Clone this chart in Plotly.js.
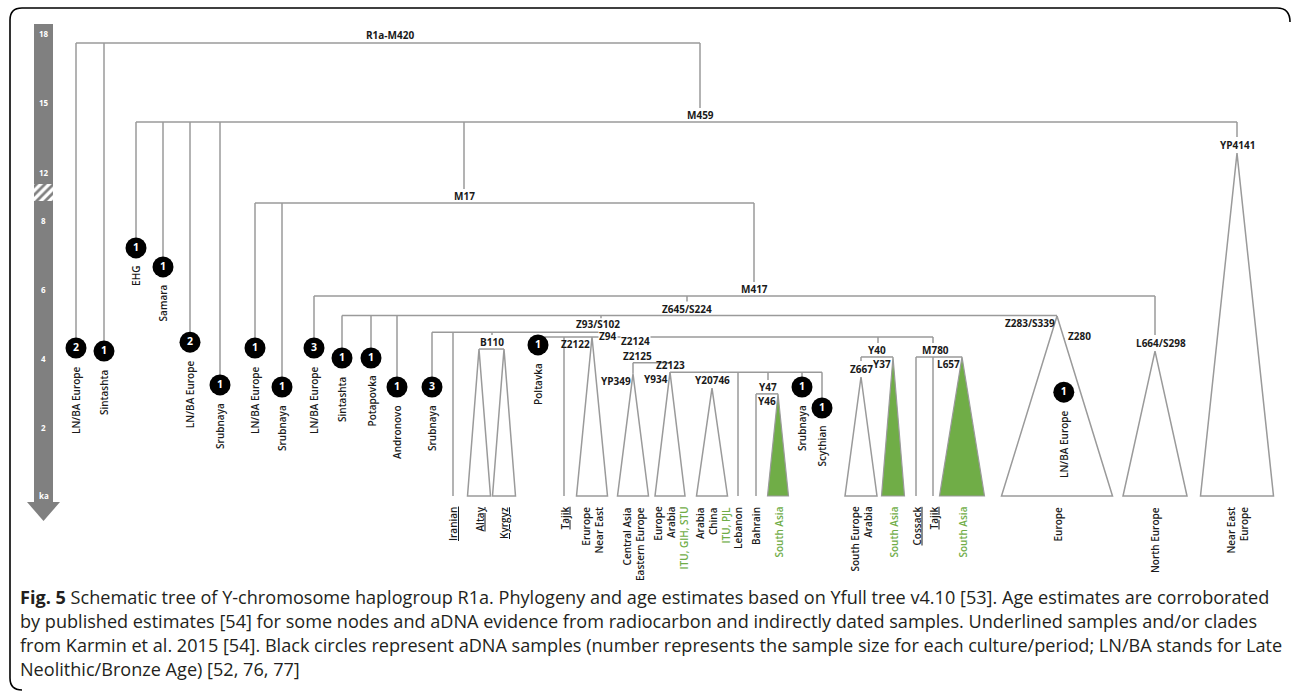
<!DOCTYPE html>
<html><head><meta charset="utf-8">
<script src="https://cdn.plot.ly/plotly-3.0.1.min.js"></script>
<style>html,body{margin:0;padding:0;background:#fff}#chart{width:1292px;height:695px}</style>
</head><body><div id="chart"></div>
<script>
// ================= DATA =================
// time scale ticks (ka)
const tickAges = [18, 15, 12, 8, 6, 4, 2];
const tickLabels = ['18', '15', '12', '8', '6', '4', '2'];

// internal nodes (age in ka)
const nodeNames   = ['R1a-M420', 'M459', 'M17', 'M417', 'Z645/S224', 'Z93/S102', 'Z94', 'B110', 'Z2124', 'Z2125', 'Z2123', 'Y47', 'Y40', 'M780'];
const nodeAges    = [17.58, 14.16, 8.49, 5.80, 5.23, 4.75, 4.61, 4.26, 4.41, 3.86, 3.59, 2.96, 4.03, 4.03];
const nodeParents = [null, 'R1a-M420', 'M459', 'M17', 'M417', 'Z645/S224', 'Z93/S102', 'Z93/S102', 'Z94', 'Z2124', 'Z2125', 'Z2123', 'Z94', 'Z94'];

// aDNA samples (black circles)
const sampleNames   = ['LN/BA Europe', 'Sintashta', 'EHG', 'Samara', 'LN/BA Europe', 'Srubnaya', 'LN/BA Europe', 'Srubnaya', 'LN/BA Europe', 'Sintashta', 'Potapovka', 'Andronovo', 'Srubnaya', 'Poltavka', 'Srubnaya', 'Scythian', 'LN/BA Europe'];
const sampleCounts  = [2, 1, 1, 1, 2, 1, 1, 1, 3, 1, 1, 1, 3, 1, 1, 1, 1];
const sampleAges    = [4.29, 4.20, 7.19, 6.64, 4.46, 3.22, 4.29, 3.16, 4.29, 4.00, 4.00, 3.16, 3.16, 4.38, 3.16, 2.55, 3.01];
const sampleParents = ['R1a-M420', 'R1a-M420', 'M459', 'M459', 'M459', 'M459', 'M17', 'M17', 'M417', 'Z645/S224', 'Z645/S224', 'Z645/S224', 'Z93/S102', 'Z94', 'Z2123', 'Z2123', 'Z280'];

// clades (triangles), apex age in ka, base at present
const cladeNames    = ['Altay', 'Kyrgyz', 'Z2122', 'YP349', 'Y934', 'Y20746', 'Y46', 'Z667', 'Y37', 'L657', 'Z283/S339', 'L664/S298', 'YP4141'];
const cladeParents  = ['B110', 'B110', 'Z94', 'Z2125', 'Z2123', 'Z2123', 'Y47', 'Y40', 'Y40', 'M780', 'Z645/S224', 'M417', 'M459'];
const cladeAges     = [4.26, 4.26, 4.61, 3.54, 3.59, 3.13, 2.96, 3.45, 4.03, 4.03, 5.22, 4.20, 12.82];
const cladeSouthAsian = [false, false, false, false, false, false, true, false, true, true, false, false, false];
const cladeRegions  = ['<u>Altay</u>', '<u>Kyrgyz</u>', 'Erurope<br>Near East', 'Central Asia<br>Eastern Europe',
  'Europe<br>Arabia<br><span style="color:#70ad47">ITU, GIH, STU</span>', 'Arabia<br>China<br><span style="color:#70ad47">ITU, PJL</span>',
  '<span style="color:#70ad47">South Asia</span>', 'South Europe<br>Arabia', '<span style="color:#70ad47">South Asia</span>',
  '<span style="color:#70ad47">South Asia</span>', 'Europe', 'North Europe', 'Near East<br>Europe'];

// single tips (lines to present)
const tipNames   = ['<u>Iranian</u>', '<u>Tajik</u>', 'Lebanon', 'Bahrain', '<u>Cossack</u>', '<u>Tajik</u>'];
const tipParents = ['Z93/S102', 'Z94', 'Z2123', 'Y47', 'M780', 'M780'];

// subclade inside Z283/S339
const subNode = {name: 'Z280', age: 4.58};

const captionLines = [
  '<b>Fig. 5</b> Schematic tree of Y-chromosome haplogroup R1a. Phylogeny and age estimates based on Yfull tree v4.10 [53]. Age estimates are corroborated',
  'by published estimates [54] for some nodes and aDNA evidence from radiocarbon and indirectly dated samples. Underlined samples and/or clades',
  'from Karmin et al. 2015 [54]. Black circles represent aDNA samples (number represents the sample size for each culture/period; LN/BA stands for Late',
  'Neolithic/Bronze Age) [52, 76, 77]'
];

// ================= LAYOUT (schematic positions / styles) =================
const nodeCols     = [700, 700, 464, 754, 687, 601, 606, 492, 639, 639, 670, 768, 878, 933];
// label placement: 'above' = centred above node line (stub interrupted); 'free' = explicit offset, no stub
const nodeLabelPos = ['none', 'above', 'above', 'above', 'above', 'above', 'free', 'above', 'free', 'above', 'above', 'above', 'above', 'above'];
const nodeLabelDx  = [0, 0, 0, 0, 0, -3, 12, 0, -19, -2, 0, 0, -1, 2];
const nodeLabelDy  = [0, 0, 0, 0, 0, -1.5, -0.5, 0, -3, 0, 0, 0, 0, 0];
const nodeLabelXa  = ['center', 'center', 'center', 'center', 'center', 'center', 'right', 'center', 'left', 'center', 'center', 'center', 'center', 'center'];
const sampleCols = [76, 104, 136, 163, 190, 220, 255, 282, 314, 342, 371, 397, 432, 538, 802, 822, 1063];
const cladeCols  = [479, 504, 592, 633, 670, 712, 778, 861, 893, 962, 1057, 1155, 1237];
const cladeHalfW = [11.5, 11.5, 15.5, 15.5, 15, 15.5, 10.5, 16, 11.5, 22.5, 55.5, 32, 36.5];
const cladeLabelPos = ['none', 'none', 'left', 'left', 'left', 'above', 'left', 'above', 'left', 'left', 'left', 'above', 'above'];
const cladeLabelDx  = [0, 0, 0, 0, 0, 0, 0, 0, 0, 0, 0, 6, 0];
const tipCols = [453, 564, 738, 756, 916, 933];

const LINE = '#9a9a9a', GREEN = '#70ad47', TXT = '#1a1a1a';
const FONT = 'Open Sans';

// age scale with a break between ~8.5 and ~11.5 ka
function ageToY(a) {
  if (a <= 8.52) return 496 - 34.5 * a;
  if (a >= 11.48) return 172 - 23.1 * (a - 12);
  return 202 - (a - 8.52) / (11.48 - 8.52) * (202 - 184);
}

// ================= BUILD =================
const pos = {};
nodeNames.forEach((n, i) => pos[n] = {x: nodeCols[i], y: ageToY(nodeAges[i])});

const lx = [], ly = [];
function seg(x0, y0, x1, y1) { lx.push(x0, x1, null); ly.push(y0, y1, null); }

const annotations = [];
function nodeLabel(text, x, y, xa, ya, size, bg) {
  annotations.push({x, y, xref: 'x', yref: 'y', text, showarrow: false, xanchor: xa || 'center', yanchor: ya || 'middle',
    borderpad: 0, bgcolor: bg || 'rgba(0,0,0,0)', font: {family: FONT, size: size || 10, color: TXT, weight: 700}});
}
function rotLabel(text, x, yTop, size) {
  annotations.push({x, y: yTop, xref: 'x', yref: 'y', text, showarrow: false, textangle: -90, xanchor: 'center', yanchor: 'top',
    align: 'right', font: {family: FONT, size: size || 10, color: TXT, weight: 600}});
}

// horizontal spans
const spans = {};
function addChild(parent, x) {
  if (!spans[parent]) spans[parent] = [x, x];
  spans[parent][0] = Math.min(spans[parent][0], x);
  spans[parent][1] = Math.max(spans[parent][1], x);
}
nodeNames.forEach((n, i) => { if (nodeParents[i]) addChild(nodeParents[i], nodeCols[i]); });
sampleNames.forEach((n, i) => { if (sampleParents[i] !== 'Z280') addChild(sampleParents[i], sampleCols[i]); });
cladeNames.forEach((n, i) => addChild(cladeParents[i], cladeCols[i]));
tipNames.forEach((n, i) => addChild(tipParents[i], tipCols[i]));
Object.keys(spans).forEach(p => { const s = spans[p]; if (s[1] > s[0]) seg(s[0], pos[p].y, s[1], pos[p].y); });

// internal node verticals + labels
nodeNames.forEach((n, i) => {
  const y = pos[n].y;
  if (nodeParents[i] && nodeLabelPos[i] === 'above') {
    const py = pos[nodeParents[i]].y;
    const stop = y - 14;
    if (stop > py + 0.5) seg(nodeCols[i], py, nodeCols[i], stop);
  }
  if (nodeLabelPos[i] === 'above') nodeLabel(n, nodeCols[i] + nodeLabelDx[i], y - 7 + nodeLabelDy[i]);
  if (nodeLabelPos[i] === 'free') nodeLabel(n, nodeCols[i] + nodeLabelDx[i], y + nodeLabelDy[i], nodeLabelXa[i], 'middle', 10, '#ffffff');
});
nodeLabel('R1a-M420', 390, pos['R1a-M420'].y - 8);

// tips
const baseY = ageToY(0);
tipNames.forEach((n, i) => {
  seg(tipCols[i], pos[tipParents[i]].y, tipCols[i], baseY);
  rotLabel(n, tipCols[i], baseY + 9);
});

// clades
const whiteX = [], whiteY = [], greenX = [], greenY = [];
cladeNames.forEach((n, i) => {
  const c = cladeCols[i], ay = ageToY(cladeAges[i]), py = pos[cladeParents[i]].y, hw = cladeHalfW[i];
  const lp = cladeLabelPos[i];
  if (lp === 'above') { seg(c, py, c, ay - 16); nodeLabel(n, c + cladeLabelDx[i], ay - 8); }
  else { if (ay > py + 0.5) seg(c, py, c, ay); }
  if (lp === 'left') nodeLabel(n, c - 1, ay + 7, 'right');
  const tx = cladeSouthAsian[i] ? greenX : whiteX, ty = cladeSouthAsian[i] ? greenY : whiteY;
  tx.push(c, c - hw, c + hw, c, null); ty.push(ay, baseY, baseY, ay, null);
  rotLabel(cladeRegions[i], c, baseY + 9);
});

// Z280 inside Z283/S339
const zi = cladeNames.indexOf('Z283/S339');
const z280y = ageToY(subNode.age);
const z280x = cladeCols[zi] + (z280y - ageToY(cladeAges[zi])) / (baseY - ageToY(cladeAges[zi])) * cladeHalfW[zi];
nodeLabel(subNode.name, z280x + 3, z280y - 2, 'left');
pos['Z280'] = {x: z280x, y: z280y};

// samples
const sx = [], sy = [];
sampleNames.forEach((n, i) => {
  const y = ageToY(sampleAges[i]);
  const x = sampleParents[i] === 'Z280' ? pos['Z280'].x : sampleCols[i];
  seg(x, pos[sampleParents[i]].y, x, y);
  sx.push(x); sy.push(y);
  rotLabel(n, x, y + 16);
});

// time bar tick labels
tickAges.forEach((a, i) => annotations.push({x: 43.5, y: ageToY(a), xref: 'x', yref: 'y', text: tickLabels[i], showarrow: false,
  font: {family: FONT, size: 8, color: '#fff', weight: 700}}));
annotations.push({x: 43.5, y: 495, xref: 'x', yref: 'y', text: 'ka', showarrow: false, font: {family: FONT, size: 8, color: '#fff', weight: 700}});

// caption
captionLines.forEach((t, i) => annotations.push({x: 18, y: 597 + i * 24, xref: 'x', yref: 'y', text: t, showarrow: false,
  xanchor: 'left', yanchor: 'middle', font: {family: FONT, size: 18.1, color: '#231f20'}}));

const traces = [
  {x: lx, y: ly, mode: 'lines', line: {color: LINE, width: 1.5}, hoverinfo: 'skip'},
  {x: whiteX, y: whiteY, mode: 'lines', fill: 'toself', fillcolor: '#ffffff', line: {color: LINE, width: 1.5}, hoverinfo: 'skip'},
  {x: greenX, y: greenY, mode: 'lines', fill: 'toself', fillcolor: GREEN, line: {color: LINE, width: 1.2}, hoverinfo: 'skip'},
  {x: sx, y: sy, mode: 'markers+text', marker: {size: 21, color: '#000'}, text: sampleCounts.map(String),
   textposition: 'middle center', textfont: {family: FONT, size: 10.5, color: '#fff', weight: 700}, hoverinfo: 'skip'},
  // hatched break in the time bar
  {x: [34, 53, 53, 34, 34], y: [184, 184, 201, 201, 184], mode: 'lines', fill: 'toself', line: {width: 0},
   fillcolor: '#ffffff', fillpattern: {shape: '/', bgcolor: '#ffffff', fgcolor: '#808080', size: 6, solidity: 0.45}, hoverinfo: 'skip'}
];

const shapes = [
  {type: 'path', xref: 'x', yref: 'y', path: 'M 1290 22 Q 1290 8 1277 8 L 22 8 Q 10 8 10 20 L 10 678 Q 10 690 22 690', line: {color: '#000', width: 1.6}},
  {type: 'rect', xref: 'x', yref: 'y', x0: 34, x1: 53, y0: 24, y1: 503, fillcolor: '#808080', line: {width: 0}, layer: 'below'},
  {type: 'path', xref: 'x', yref: 'y', path: 'M 27 502 L 60 502 L 43.5 521 Z', fillcolor: '#808080', line: {width: 0}, layer: 'below'}
];

const layout = {
  width: 1292, height: 695, margin: {l: 0, r: 0, t: 0, b: 0},
  paper_bgcolor: '#fff', plot_bgcolor: '#fff', showlegend: false,
  xaxis: {range: [0, 1292], visible: false, fixedrange: true},
  yaxis: {range: [695, 0], visible: false, fixedrange: true},
  annotations, shapes
};
Plotly.newPlot('chart', traces, layout, {staticPlot: true});
</script></body></html>
